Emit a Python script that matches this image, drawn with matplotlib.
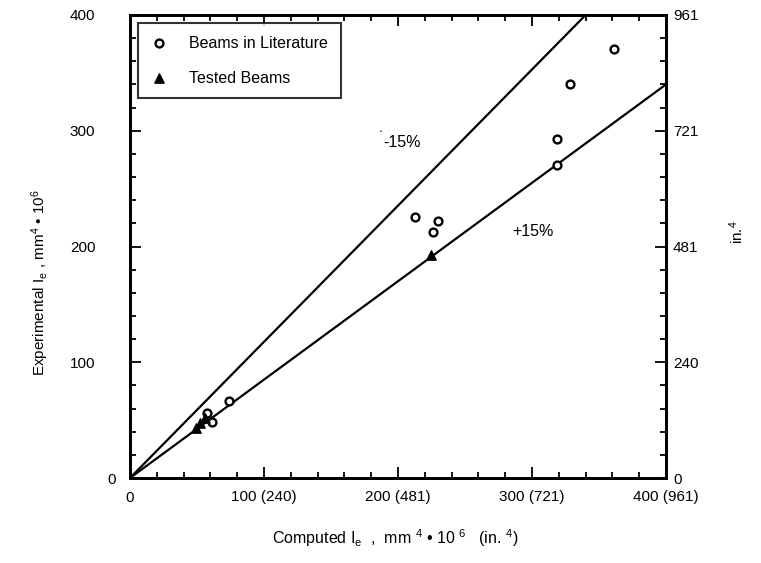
import matplotlib
matplotlib.use("Agg")
import matplotlib.pyplot as plt
from matplotlib.ticker import MultipleLocator
import numpy as np

plt.rcParams['font.family'] = ['Liberation Sans', 'DejaVu Sans']
plt.rcParams['mathtext.fontset'] = 'custom'
plt.rcParams['mathtext.rm'] = 'Liberation Sans'
plt.rcParams['mathtext.it'] = 'Liberation Sans'

# data (mm^4 * 10^6)
lit_x = [361, 328, 319, 319, 213, 230, 226, 74, 57.5, 61]
lit_y = [371, 340.5, 293, 270.5, 225.6, 222, 212.6, 66.5, 56, 48.4]
tested_x = [224.6, 56, 52, 49]
tested_y = [192.7, 52, 47.5, 43]

line_slopes = [1 / 0.85, 0.85]
line_labels = ["-15%", "+15%"]

xticks = [0, 100, 200, 300, 400]
xticklabels = ["0", "100 (240)", "200 (481)", "300 (721)", "400 (961)"]
yticks = [0, 100, 200, 300, 400]
yticklabels = ["0", "100", "200", "300", "400"]
ry_ticklabels = ["0", "240", "481", "721", "961"]

W, H = 761, 563
fig = plt.figure(figsize=(W / 100, H / 100), dpi=100)
L, R, T, B = 130, 666, 15, 478
ax = fig.add_axes([L / W, 1 - B / H, (R - L) / W, (B - T) / H])
ax.set_xlim(0, 400)
ax.set_ylim(0, 400)

xs = np.array([0, 400])
for s in line_slopes:
    ax.plot(xs, s * xs, color='black', lw=1.6, zorder=2)

ax.scatter(lit_x, lit_y, s=32, facecolors='white', edgecolors='black',
           linewidths=1.7, zorder=3, label='Beams in Literature')
ax.scatter(tested_x, tested_y, s=45, marker='^', color='black',
           zorder=4, label='Tested Beams')

ax.text(189, 290, line_labels[0], fontsize=11.5, va='center', ha='left')
ax.text(187, 299, '•', fontsize=4, va='center', ha='center')
ax.text(285, 212.6, line_labels[1], fontsize=11.5, va='center', ha='left')

for sp in ax.spines.values():
    sp.set_linewidth(2)

ax.set_xticks(xticks)
ax.set_xticklabels(xticklabels)
ax.set_yticks(yticks)
ax.set_yticklabels(yticklabels)
ax.xaxis.set_minor_locator(MultipleLocator(20))
ax.yaxis.set_minor_locator(MultipleLocator(20))
ax.tick_params(which='both', direction='in', top=True, right=False,
               labelsize=11, width=1.3)
ax.tick_params(which='major', length=8)
ax.tick_params(which='minor', length=4)
ax.tick_params(axis='y', pad=25)
ax.tick_params(axis='x', pad=9)
ax.yaxis.get_major_ticks()[0].set_pad(10)

ax2 = ax.twinx()
ax2.set_ylim(0, 400)
ax2.set_yticks(yticks)
ax2.set_yticklabels(ry_ticklabels)
ax2.yaxis.set_minor_locator(MultipleLocator(20))
ax2.tick_params(which='both', direction='in', labelsize=11, width=1.3, pad=5)
ax2.tick_params(which='major', length=8)
ax2.tick_params(which='minor', length=4)
for sp in ax2.spines.values():
    sp.set_linewidth(2)

leg = ax.legend(loc='upper left', bbox_to_anchor=(0.015, 0.983),
                fontsize=11.5, frameon=True, fancybox=False,
                borderpad=0.8, labelspacing=1.25, handletextpad=1.4,
                handlelength=1.0, borderaxespad=0)
leg.get_frame().set_edgecolor('black')
leg.get_frame().set_linewidth(1.5)

fig.text(40 / W, 1 - 283 / H,
         "Experimental I$_{\\rm e}$ , mm$^{4}$ • 10$^{6}$",
         rotation=90, ha='center', va='center', fontsize=11)
fig.text(737 / W, 1 - 232 / H, r"in.$^{4}$", rotation=90, ha='center',
         va='center', fontsize=11)
fig.text(395 / W, 1 - 538 / H,
         "Computed I$_{\\rm e}$  ,  mm $^{4}$ • 10 $^{6}$   (in. $^{4}$)",
         ha='center', va='center', fontsize=11.5)

fig.savefig("out.png", dpi=100)
